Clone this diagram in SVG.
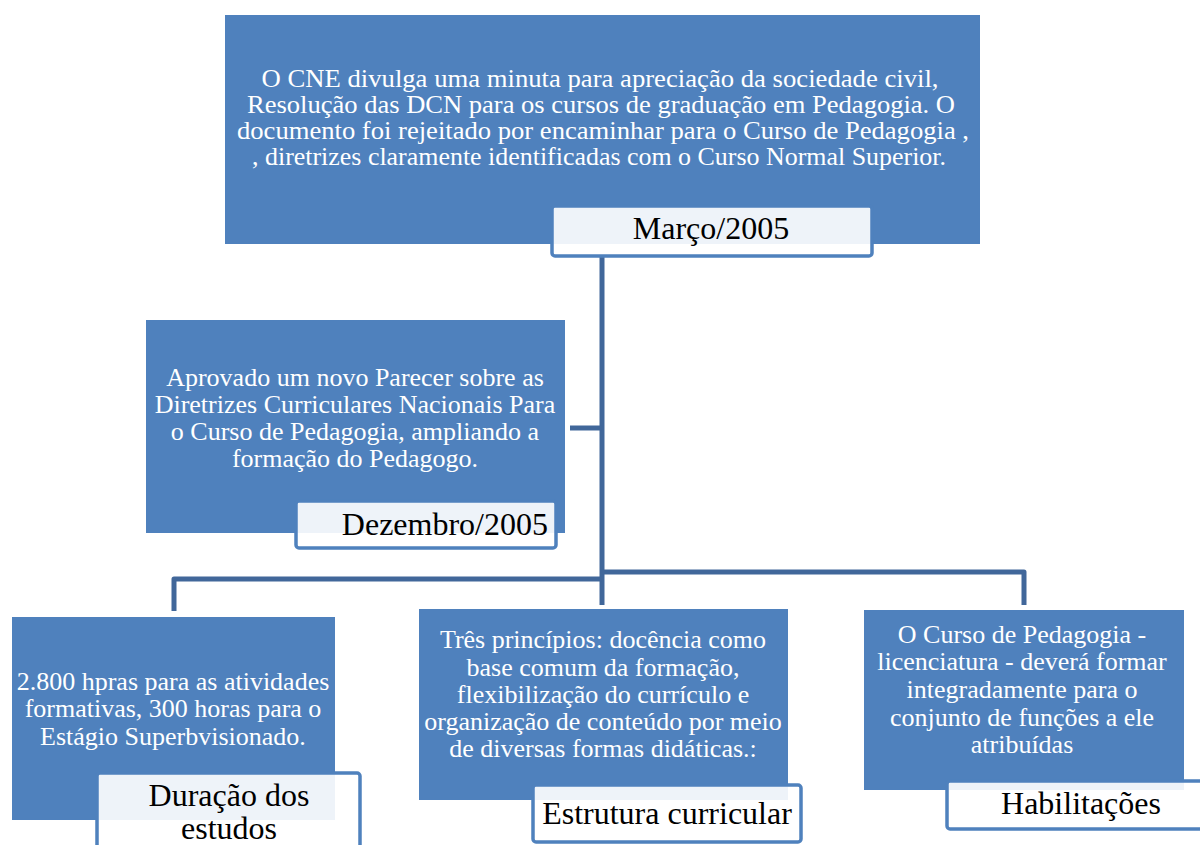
<svg xmlns="http://www.w3.org/2000/svg" width="1200" height="845" viewBox="0 0 1200 845">
<style>
.box{fill:#4F81BD;}
.lbl{fill:#FFFFFF;fill-opacity:0.9;stroke:#4F81BD;stroke-width:3.5;}
.t{font-family:"Liberation Serif","Times New Roman",serif;fill:#FFFFFF;font-size:26px;text-anchor:middle;}
.tt{font-family:"Liberation Serif","Times New Roman",serif;fill:#FFFFFF;font-size:25px;text-anchor:middle;}
.lt{font-family:"Liberation Serif","Times New Roman",serif;fill:#000000;font-size:32px;text-anchor:middle;}
.con{fill:none;stroke:#41679A;stroke-width:5;stroke-linejoin:round;}
</style>
<rect width="1200" height="845" fill="#FFFFFF"/>
<g id="connectors">
<path class="con" d="M602,255 V605"/>
<path class="con" d="M570,428 H602"/>
<path class="con" d="M602,579 H174 V611"/>
<path class="con" d="M602,572 H1024 V605"/>
</g>
<g id="node-marco">
<rect class="box" x="225" y="15" width="755" height="229"/>
<text class="tt" x="600" y="87" textLength="677" lengthAdjust="spacingAndGlyphs">O CNE divulga uma minuta para apreciação da sociedade civil,</text>
<text class="tt" x="601" y="113" textLength="708" lengthAdjust="spacingAndGlyphs">Resolução das DCN para os cursos de graduação em Pedagogia. O</text>
<text class="tt" x="603" y="139" textLength="732" lengthAdjust="spacingAndGlyphs">documento foi rejeitado por encaminhar para o Curso de Pedagogia ,</text>
<text class="tt" x="599" y="165" textLength="694" lengthAdjust="spacingAndGlyphs">, diretrizes claramente identificadas com o Curso Normal Superior.</text>
<rect class="lbl" x="552" y="206" width="320" height="50" rx="3"/>
<text class="lt" x="711" y="239">Março/2005</text>
</g>
<g id="node-dezembro">
<rect class="box" x="146" y="320" width="419" height="213"/>
<text class="t" x="355" y="386">Aprovado um novo Parecer sobre as</text>
<text class="t" x="355" y="413">Diretrizes Curriculares Nacionais Para</text>
<text class="t" x="355" y="440">o Curso de Pedagogia, ampliando a</text>
<text class="t" x="355" y="467">formação do Pedagogo.</text>
<rect class="lbl" x="296" y="501" width="260" height="47" rx="3"/>
<text class="lt" x="548" y="535" style="text-anchor:end">Dezembro/2005</text>
</g>
<g id="node-duracao">
<rect class="box" x="12" y="617" width="323" height="203"/>
<text class="t" x="173" y="690">2.800 hpras para as atividades</text>
<text class="t" x="173" y="717">formativas, 300 horas para o</text>
<text class="t" x="173" y="745">Estágio Superbvisionado.</text>
<rect class="lbl" x="97" y="773" width="263" height="90" rx="3"/>
<text class="lt" x="229" y="806">Duração dos</text>
<text class="lt" x="229" y="839">estudos</text>
</g>
<g id="node-estrutura">
<rect class="box" x="419" y="609" width="369" height="191"/>
<text class="t" x="603" y="648">Três princípios: docência como</text>
<text class="t" x="603" y="676">base comum da formação,</text>
<text class="t" x="603" y="703">flexibilização do currículo e</text>
<text class="t" x="603" y="730">organização de conteúdo por meio</text>
<text class="t" x="603" y="757">de diversas formas didáticas.:</text>
<rect class="lbl" x="533" y="785" width="268" height="57" rx="3"/>
<text class="lt" x="667" y="824">Estrutura curricular</text>
</g>
<g id="node-habilitacoes">
<rect class="box" x="864" y="610" width="320" height="180"/>
<text class="t" x="1022" y="643">O Curso de Pedagogia -</text>
<text class="t" x="1022" y="670">licenciatura - deverá formar</text>
<text class="t" x="1022" y="698">integradamente para o</text>
<text class="t" x="1022" y="726">conjunto de funções a ele</text>
<text class="t" x="1022" y="753">atribuídas</text>
<rect class="lbl" x="947" y="781" width="270" height="48" rx="3"/>
<text class="lt" x="1081" y="814">Habilitações</text>
</g>
</svg>
